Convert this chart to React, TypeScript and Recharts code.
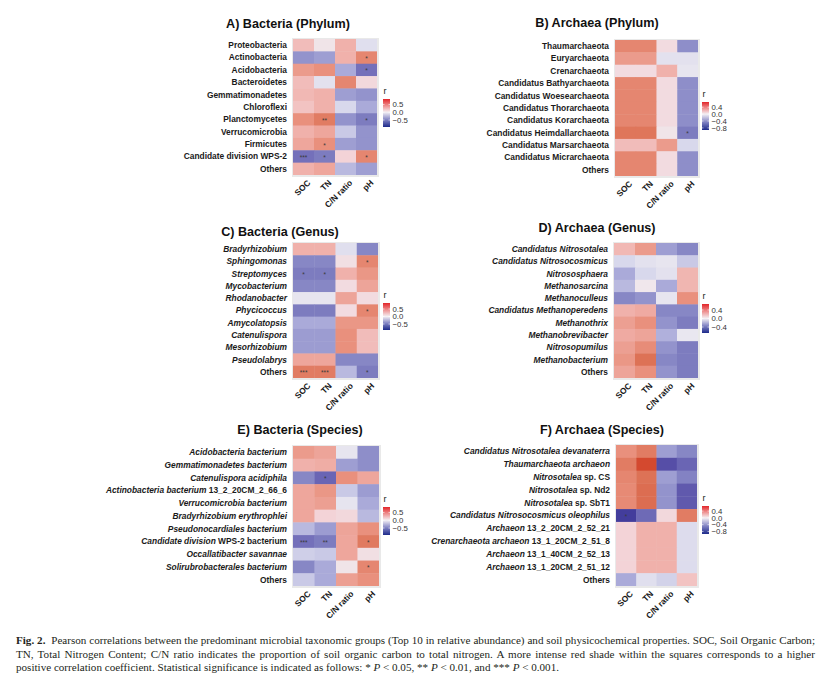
import React from "react";
import { ScatterChart, Scatter, XAxis, YAxis } from "recharts";

const FONT = "'Liberation Sans', Arial, Helvetica, sans-serif";
const COLS = ["SOC", "TN", "C/N ratio", "pH"];

// A) Bacteria (Phylum)
const bacPhylumRows = [
  "Proteobacteria", "Actinobacteria", "Acidobacteria", "Bacteroidetes", "Gemmatimonadetes", "Chloroflexi",
  "Planctomycetes", "Verrucomicrobia", "Firmicutes", "Candidate division WPS-2", "Others",
];
const bacPhylumR = [
  [0.25, 0.05, 0.3, -0.1],
  [-0.4, -0.35, 0.3, 0.5],
  [0.4, 0.45, -0.3, -0.55],
  [0.25, -0.08, 0.5, 0.12],
  [0.27, 0.3, -0.35, -0.4],
  [0.22, 0.3, -0.15, -0.3],
  [0.45, 0.55, -0.4, -0.5],
  [0.3, 0.35, -0.2, -0.4],
  [0.35, 0.45, -0.35, -0.4],
  [-0.55, -0.5, 0.15, 0.5],
  [0.3, 0.35, -0.25, -0.35],
];
const bacPhylumSig = [
  ["", "", "", ""], ["", "", "", "*"], ["", "", "", "*"], ["", "", "", ""], ["", "", "", ""], ["", "", "", ""],
  ["", "**", "", "*"], ["", "", "", ""], ["", "*", "", ""], ["***", "*", "", "*"], ["", "", "", ""],
];

// B) Archaea (Phylum)
const arcPhylumRows = [
  "Thaumarchaeota", "Euryarchaeota", "Crenarchaeota", "Candidatus Bathyarchaeota", "Candidatus Woesearchaeota",
  "Candidatus Thorarchaeota", "Candidatus Korarchaeota", "Candidatus Heimdallarchaeota", "Candidatus Marsarchaeota",
  "Candidatus Micrarchaeota", "Others",
];
const arcPhylumR = [
  [0.5, 0.5, 0.1, -0.42],
  [0.4, 0.4, -0.08, -0.08],
  [0.1, 0.1, 0.3, -0.05],
  [0.5, 0.5, 0.1, -0.42],
  [0.5, 0.5, 0.1, -0.42],
  [0.5, 0.5, 0.1, -0.42],
  [0.5, 0.5, 0.1, -0.42],
  [0.58, 0.58, 0.05, -0.5],
  [0.25, 0.25, 0.4, -0.15],
  [0.5, 0.5, 0.1, -0.42],
  [0.5, 0.5, 0.1, -0.42],
];
const arcPhylumSig = [
  ["", "", "", ""], ["", "", "", ""], ["", "", "", ""], ["", "", "", ""], ["", "", "", ""], ["", "", "", ""],
  ["", "", "", ""], ["", "", "", "*"], ["", "", "", ""], ["", "", "", ""], ["", "", "", ""],
];

// C) Bacteria (Genus)
const bacGenusRows = [
  "{Bradyrhizobium}", "{Sphingomonas}", "{Streptomyces}", "{Mycobacterium}", "{Rhodanobacter}", "{Phycicoccus}",
  "{Amycolatopsis}", "{Catenulispora}", "{Mesorhizobium}", "{Pseudolabrys}", "Others",
];
const bacGenusR = [
  [0.3, 0.3, -0.1, -0.45],
  [-0.45, -0.45, 0.08, 0.5],
  [-0.5, -0.5, 0.3, 0.42],
  [-0.45, -0.45, 0.1, 0.36],
  [-0.05, -0.05, 0.36, 0.1],
  [-0.5, -0.5, 0.1, 0.5],
  [-0.3, -0.3, 0.42, 0.42],
  [-0.36, -0.36, 0.45, 0.25],
  [-0.36, -0.36, 0.45, 0.25],
  [0.35, 0.35, -0.45, -0.45],
  [0.55, 0.55, -0.25, -0.5],
];
const bacGenusSig = [
  ["", "", "", ""], ["", "", "", "*"], ["*", "*", "", ""], ["", "", "", ""], ["", "", "", ""], ["", "", "", "*"],
  ["", "", "", ""], ["", "", "", ""], ["", "", "", ""], ["", "", "", ""], ["***", "***", "", "*"],
];

// D) Archaea (Genus)
const arcGenusRows = [
  "{Candidatus Nitrosotalea}", "{Candidatus Nitrosocosmicus}", "{Nitrososphaera}", "{Methanosarcina}",
  "{Methanoculleus}", "{Candidatus Methanoperedens}", "{Methanothrix}", "{Methanobrevibacter}",
  "{Nitrosopumilus}", "{Methanobacterium}", "Others",
];
const arcGenusR = [
  [0.27, 0.4, -0.35, -0.45],
  [-0.15, -0.08, -0.05, -0.2],
  [-0.3, -0.15, -0.08, 0.28],
  [-0.25, 0.03, -0.3, 0.28],
  [-0.45, -0.4, -0.05, 0.45],
  [0.3, 0.33, -0.45, -0.45],
  [0.38, 0.45, -0.4, -0.5],
  [0.33, 0.36, -0.28, -0.04],
  [0.38, 0.47, -0.4, -0.5],
  [0.42, 0.6, -0.45, -0.5],
  [0.36, 0.45, -0.4, -0.5],
];
const arcGenusSig = arcGenusRows.map(() => ["", "", "", ""]);

// E) Bacteria (Species)
const bacSpeciesRows = [
  "{Acidobacteria bacterium}", "{Gemmatimonadetes bacterium}", "{Catenulispora acidiphila}",
  "{Actinobacteria bacterium} 13_2_20CM_2_66_6", "{Verrucomicrobia bacterium}", "{Bradyrhizobium erythrophlei}",
  "{Pseudonocardiales bacterium}", "{Candidate division} WPS-2 bacterium", "{Occallatibacter savannae}",
  "{Solirubrobacterales bacterium}", "Others",
];
const bacSpeciesR = [
  [0.4, 0.36, -0.05, -0.42],
  [0.3, 0.32, -0.35, -0.42],
  [-0.45, -0.6, 0.45, 0.35],
  [0.35, 0.42, -0.2, -0.36],
  [0.35, 0.38, -0.06, -0.3],
  [0.35, 0.15, 0.12, -0.25],
  [-0.25, -0.36, 0.36, 0.45],
  [-0.55, -0.5, 0.35, 0.56],
  [-0.18, -0.2, 0.35, 0.08],
  [-0.45, -0.3, 0.05, 0.5],
  [-0.2, -0.3, 0.38, 0.45],
];
const bacSpeciesSig = [
  ["", "", "", ""], ["", "", "", ""], ["", "*", "", ""], ["", "", "", ""], ["", "", "", ""], ["", "", "", ""],
  ["", "", "", ""], ["***", "**", "", "*"], ["", "", "", ""], ["", "", "", "*"], ["", "", "", ""],
];

// F) Archaea (Species)
const arcSpeciesRows = [
  "{Candidatus Nitrosotalea devanaterra}", "{Thaumarchaeota archaeon}", "{Nitrosotalea} sp. CS",
  "{Nitrosotalea} sp. Nd2", "{Nitrosotalea} sp. SbT1", "{Candidatus Nitrosocosmicus oleophilus}",
  "{Archaeon} 13_2_20CM_2_52_21", "{Crenarchaeota archaeon} 13_1_20CM_2_51_8", "{Archaeon} 13_1_40CM_2_52_13",
  "{Archaeon} 13_1_20CM_2_51_12", "Others",
];
const arcSpeciesR = [
  [0.45, 0.55, -0.35, -0.45],
  [0.55, 0.75, -0.7, -0.6],
  [0.5, 0.6, -0.35, -0.47],
  [0.48, 0.62, -0.4, -0.65],
  [0.48, 0.62, -0.4, -0.65],
  [-0.8, -0.58, 0.12, 0.55],
  [0.15, 0.3, 0.3, -0.12],
  [0.15, 0.3, 0.3, -0.12],
  [0.15, 0.3, 0.3, -0.12],
  [0.15, 0.3, 0.3, -0.12],
  [-0.3, -0.1, -0.17, 0.22],
];
const arcSpeciesSig = [
  ["", "", "", ""], ["", "", "", ""], ["", "", "", ""], ["", "", "", ""], ["", "", "", ""], ["*", "", "", ""],
  ["", "", "", ""], ["", "", "", ""], ["", "", "", ""], ["", "", "", ""], ["", "", "", ""],
];

const ticksRed = [0.5, 0, -0.5];
const ticksBlue = [0.4, 0, -0.4, -0.8];
const ticksD = [0.4, 0, -0.4];

const POS_STOPS: [number, string][] = [
  [0, "#efecf1"], [0.15, "#f3d3d7"], [0.3, "#f0b1ab"], [0.45, "#e9907d"], [0.6, "#dd7256"], [0.75, "#d4492f"], [1, "#c41d1d"],
];
const NEG_STOPS: [number, string][] = [
  [0, "#efecf1"], [0.15, "#d8d8ec"], [0.3, "#aaaad9"], [0.45, "#8787c5"], [0.6, "#6a65b4"], [0.75, "#4c42a0"], [1, "#1e2a8a"],
];

function hex(c: string) {
  return [1, 3, 5].map((i) => parseInt(c.slice(i, i + 2), 16));
}

function cellColor(r: number) {
  const stops = r >= 0 ? POS_STOPS : NEG_STOPS;
  const a = Math.min(1, Math.abs(r));
  for (let k = 1; k < stops.length; k++) {
    if (a <= stops[k][0]) {
      const [t0, c0] = stops[k - 1];
      const [t1, c1] = stops[k];
      const f = (a - t0) / (t1 - t0);
      const p = hex(c0), q = hex(c1);
      const m = p.map((v, i) => Math.round(v + (q[i] - v) * f));
      return `rgb(${m[0]},${m[1]},${m[2]})`;
    }
  }
  return stops[stops.length - 1][1];
}

function parseLabel(s: string) {
  return s
    .split(/(\{[^}]*\})/)
    .filter(Boolean)
    .map((part) => (part.startsWith("{") ? { t: part.slice(1, -1), i: true } : { t: part, i: false }));
}

const YW = 200;

function Heatmap({ p }: any) {
  const { rows, r, sig, gx, gy, gw, gh } = p;
  const n = rows.length;
  const cw = gw / 4;
  const ch = gh / n;
  const data: any[] = [];
  rows.forEach((_: string, i: number) =>
    COLS.forEach((_c, j) => data.push({ x: j + 0.5, y: i + 0.5, r: r[i][j], s: sig[i][j] }))
  );

  const shape = (props: any) => {
    const { cx, cy, payload } = props;
    return (
      <g>
        <rect x={cx - cw / 2} y={cy - ch / 2} width={cw + 0.4} height={ch + 0.4} fill={cellColor(payload.r)} />
        {payload.s ? (
          <text x={cx} y={cy + 3.5} textAnchor="middle" fontSize={6.5} fill="#3a3a3a" fontFamily={FONT}>
            {payload.s}
          </text>
        ) : null}
      </g>
    );
  };

  const YTick = (t: any) => {
    const idx = Math.round(t.payload.value - 0.5);
    return (
      <text x={YW - 6} y={t.y} dy="0.35em" textAnchor="end" fontSize={8.4} fontWeight="bold" fill="#1a1a1a" fontFamily={FONT}>
        {parseLabel(rows[idx]).map((s, k) => (
          <tspan key={k} fontStyle={s.i ? "italic" : "normal"}>{s.t}</tspan>
        ))}
      </text>
    );
  };

  const XTick = (t: any) => {
    const idx = Math.round(t.payload.value - 0.5);
    const ax = t.x + 3;
    const ay = gh + 4;
    return (
      <text x={ax} y={ay} dy="0.75em" textAnchor="end" transform={`rotate(-45 ${ax} ${ay})`} fontSize={8.4}
        fontWeight="bold" fill="#1a1a1a" fontFamily={FONT}>
        {COLS[idx]}
      </text>
    );
  };

  return (
    <>
      <div style={{ position: "absolute", left: gx - 1.5, top: gy - 1.5, width: gw + 3, height: gh + 3, background: "#e9e9e9" }} />
      <div style={{ position: "absolute", left: gx - YW, top: gy }}>
        <ScatterChart width={YW + gw + 2} height={gh + 50} margin={{ top: 0, right: 2, bottom: 0, left: 0 }} style={{ overflow: "visible" }}>
          <XAxis type="number" dataKey="x" domain={[0, 4]} ticks={[0.5, 1.5, 2.5, 3.5]} interval={0} allowDataOverflow
            axisLine={false} tickLine={false} height={50} tick={XTick} />
          <YAxis type="number" dataKey="y" domain={[0, n]} reversed ticks={rows.map((_: string, i: number) => i + 0.5)}
            interval={0} allowDataOverflow width={YW} axisLine={false} tickLine={false} tick={YTick} />
          <Scatter data={data} shape={shape} isAnimationActive={false} />
        </ScatterChart>
      </div>
      <div style={{ position: "absolute", left: p.tx - 100, width: 200, top: p.ty - 8, textAlign: "center", fontFamily: FONT,
        fontWeight: "bold", fontSize: 12.6, color: "#111", lineHeight: "16px", whiteSpace: "nowrap" }}>
        {p.title}
      </div>
      <ColorBar {...p.legend} id={p.id} />
    </>
  );
}

function ColorBar({ x, top, h, lim, ticks, id }: any) {
  const [lo, hi] = lim;
  const w = 7;
  const z = hi / (hi - lo);
  const yOf = (v: number) => 14 + ((hi - v) / (hi - lo)) * h;
  return (
    <svg style={{ position: "absolute", left: x, top: top - 14 }} width={40} height={h + 20}>
      <defs>
        <linearGradient id={`cb-${id}`} x1="0" y1="0" x2="0" y2="1">
          <stop offset="0" stopColor="#e3262a" />
          <stop offset={z * 0.5} stopColor="#ee8e8e" />
          <stop offset={z} stopColor="#f4f0f4" />
          <stop offset={z + (1 - z) * 0.5} stopColor="#8284c4" />
          <stop offset="1" stopColor="#1d2a8a" />
        </linearGradient>
      </defs>
      <text x={0.5} y={9} fontSize={9} fill="#222" fontFamily={FONT}>r</text>
      <rect x={0} y={14} width={w} height={h} fill={`url(#cb-${id})`} />
      {ticks.map((v: number) => (
        <g key={v}>
          <line x1={0} x2={1.5} y1={yOf(v)} y2={yOf(v)} stroke="#fff" strokeWidth={0.6} />
          <line x1={w - 1.5} x2={w} y1={yOf(v)} y2={yOf(v)} stroke="#fff" strokeWidth={0.6} />
          <text x={w + 2.5} y={yOf(v)} dy="0.35em" fontSize={7.8} fill="#333" fontFamily={FONT}>
            {v === 0 ? "0.0" : (v < 0 ? "\u2212" : "") + Math.abs(v).toFixed(1)}
          </text>
        </g>
      ))}
    </svg>
  );
}

const panels = [
  { id: "a", title: "A) Bacteria (Phylum)", rows: bacPhylumRows, r: bacPhylumR, sig: bacPhylumSig, gx: 293, gy: 39, gw: 84, gh: 136, tx: 288, ty: 24,
    legend: { x: 383, top: 99, h: 28, lim: [-0.95, 0.85], ticks: ticksRed } },
  { id: "b", title: "B) Archaea (Phylum)", rows: arcPhylumRows, r: arcPhylumR, sig: arcPhylumSig, gx: 615, gy: 40, gw: 83, gh: 136, tx: 597, ty: 23,
    legend: { x: 702, top: 102, h: 28, lim: [-0.92, 0.7], ticks: ticksBlue } },
  { id: "c", title: "C) Bacteria (Genus)", rows: bacGenusRows, r: bacGenusR, sig: bacGenusSig, gx: 293, gy: 243, gw: 85, gh: 135, tx: 280, ty: 232,
    legend: { x: 383, top: 303, h: 27, lim: [-0.9, 0.9], ticks: ticksRed } },
  { id: "d", title: "D) Archaea (Genus)", rows: arcGenusRows, r: arcGenusR, sig: arcGenusSig, gx: 614, gy: 243, gw: 84, gh: 135, tx: 597, ty: 228,
    legend: { x: 702, top: 304, h: 29, lim: [-0.68, 0.68], ticks: ticksD } },
  { id: "e", title: "E) Bacteria (Species)", rows: bacSpeciesRows, r: bacSpeciesR, sig: bacSpeciesSig, gx: 293, gy: 446, gw: 86, gh: 140, tx: 300, ty: 430,
    legend: { x: 383, top: 507, h: 28, lim: [-0.95, 0.85], ticks: ticksRed } },
  { id: "f", title: "F) Archaea (Species)", rows: arcSpeciesRows, r: arcSpeciesR, sig: arcSpeciesSig, gx: 616, gy: 445, gw: 81, gh: 141, tx: 602, ty: 430,
    legend: { x: 702, top: 506, h: 28, lim: [-0.95, 0.7], ticks: ticksBlue } },
];

const captionStyle: React.CSSProperties = {
  fontFamily: "'Liberation Serif', 'Times New Roman', serif",
  fontSize: 11.1,
  lineHeight: "13.5px",
  color: "#231f20",
  whiteSpace: "nowrap",
};

export default function App() {
  return (
    <div style={{ position: "absolute", left: 0, top: 0, width: 831, height: 678, background: "#fff", overflow: "hidden" }}>
      {panels.map((p) => (
        <Heatmap key={p.id} p={p} />
      ))}
      <div style={{ position: "absolute", left: 16, top: 634, width: 799, ...captionStyle }}>
        <div style={{ textAlign: "justify", textAlignLast: "justify" }}>
          <b>Fig. 2.</b>&nbsp; Pearson correlations between the predominant microbial taxonomic groups (Top 10 in relative abundance) and soil physicochemical properties. SOC, Soil Organic Carbon;
        </div>
        <div style={{ textAlign: "justify", textAlignLast: "justify" }}>
          TN, Total Nitrogen Content; C/N ratio indicates the proportion of soil organic carbon to total nitrogen. A more intense red shade within the squares corresponds to a higher
        </div>
        <div>
          positive correlation coefficient. Statistical significance is indicated as follows: * <i>P</i> &lt; 0.05, ** <i>P</i> &lt; 0.01, and *** <i>P</i> &lt; 0.001.
        </div>
      </div>
    </div>
  );
}
